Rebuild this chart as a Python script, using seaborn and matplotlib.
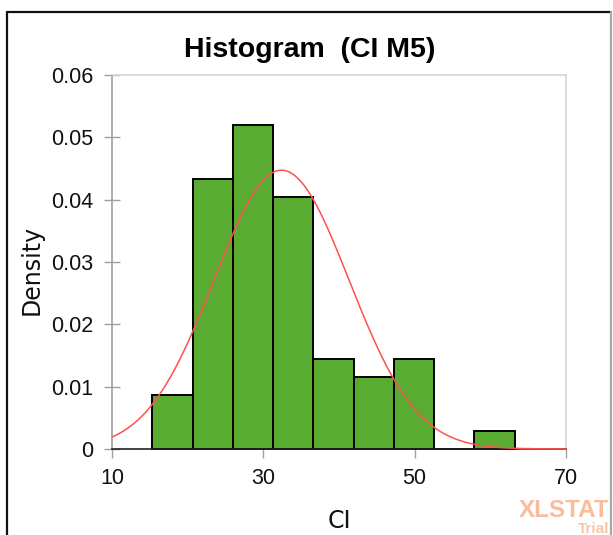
import numpy as np
import pandas as pd
import matplotlib
matplotlib.use("Agg")
import matplotlib.pyplot as plt
import seaborn as sns
from matplotlib.lines import Line2D

# ---------------- data ----------------
bin_edges = [15.33, 20.65, 25.97, 31.29, 36.61, 41.93, 47.25, 52.57, 57.89, 63.21]
bin_counts = [3, 15, 18, 14, 5, 4, 5, 0, 1]
normal_mean = 32.4
normal_sd = 8.92
x_ticks = [10, 30, 50, 70]
y_ticks = [0, 0.01, 0.02, 0.03, 0.04, 0.05, 0.06]
y_tick_labels = ["0", "0.01", "0.02", "0.03", "0.04", "0.05", "0.06"]
title_text = "Histogram  (CI M5)"
x_label = "CI"
y_label = "Density"

# ---------------- style ----------------
sns.set_style("white")
plt.rcParams["font.family"] = ["DejaVu Sans"]
narrow = ["Liberation Sans"]

centers = [(a + b) / 2 for a, b in zip(bin_edges[:-1], bin_edges[1:])]
df = pd.DataFrame({"CI": centers, "count": bin_counts})

W, H = 613, 535
fig = plt.figure(figsize=(W / 100, H / 100), dpi=100)
ax = fig.add_axes([112 / W, 86 / H, 454 / W, 374 / H])

sns.histplot(data=df, x="CI", weights="count", bins=bin_edges, stat="density",
             color="#5aab32", alpha=1, edgecolor="black", linewidth=1.4, ax=ax)
for p in ax.patches:
    p.set_clip_on(False)

xs = np.linspace(10, 70, 400)
pdf = np.exp(-0.5 * ((xs - normal_mean) / normal_sd) ** 2) / (normal_sd * np.sqrt(2 * np.pi))
sns.lineplot(x=xs, y=pdf, color="#ff5050", linewidth=1.1, ax=ax)
for ln in ax.lines:
    ln.set_clip_on(False)
    ln.set_zorder(6)

ax.set_xlim(10, 70)
ax.set_ylim(0, 0.06)
ax.set_xticks(x_ticks)
ax.set_xticklabels([str(v) for v in x_ticks])
ax.set_yticks(y_ticks)
ax.set_yticklabels(y_tick_labels)

ax.spines["left"].set_color("#a0a0a0")
ax.spines["bottom"].set_color("#222222")
ax.spines["top"].set_color("#d6d6d6")
ax.spines["right"].set_color("#d6d6d6")
for s in ax.spines.values():
    s.set_linewidth(1.2)
ax.spines["bottom"].set_zorder(5)

ax.tick_params(axis="y", direction="inout", length=11, width=1, color="#a0a0a0", pad=8, left=True)
ax.tick_params(axis="x", direction="out", length=6.5, width=1, color="#a0a0a0", pad=7.5, bottom=True)
for t in ax.get_xticklabels() + ax.get_yticklabels():
    t.set_fontfamily(narrow)
    t.set_fontsize(15.5)
    t.set_color("#111111")

ax.set_xlabel(x_label, fontsize=17, color="#111111")
ax.set_ylabel(y_label, fontsize=17, color="#111111")
ax.xaxis.set_label_coords(0.5, -0.16)
ax.yaxis.set_label_coords(-0.150, 0.479)

ax.set_title(title_text, x=(309.5 - 112) / 454, y=(449 - 57) / 374, pad=0, va="baseline",
             fontsize=20.5, fontweight="bold", fontfamily=narrow, color="black")

# watermark
fig.text(609 / W, (H - 517) / H, "XLSTAT", ha="right", va="baseline", fontsize=17.5,
         fontweight="bold", color="#f9bc9c", fontfamily=["Liberation Sans"])
fig.text(609 / W, (H - 533) / H, "Trial", ha="right", va="baseline", fontsize=11,
         fontweight="bold", color="#f9c4a8", fontfamily=["Liberation Sans"])

# outer frame
fig.add_artist(Line2D([7 / W, 7 / W], [-0.05, (H - 12) / H], color="#111111", lw=1.6,
                      transform=fig.transFigure))
fig.add_artist(Line2D([7 / W, 611 / W], [(H - 12) / H] * 2, color="#111111", lw=1.6,
                      transform=fig.transFigure))
fig.add_artist(Line2D([611 / W, 611 / W], [(H - 12) / H, -0.05], color="#a8a8a8", lw=1.6,
                      transform=fig.transFigure))

fig.savefig("out.png", dpi=100)
